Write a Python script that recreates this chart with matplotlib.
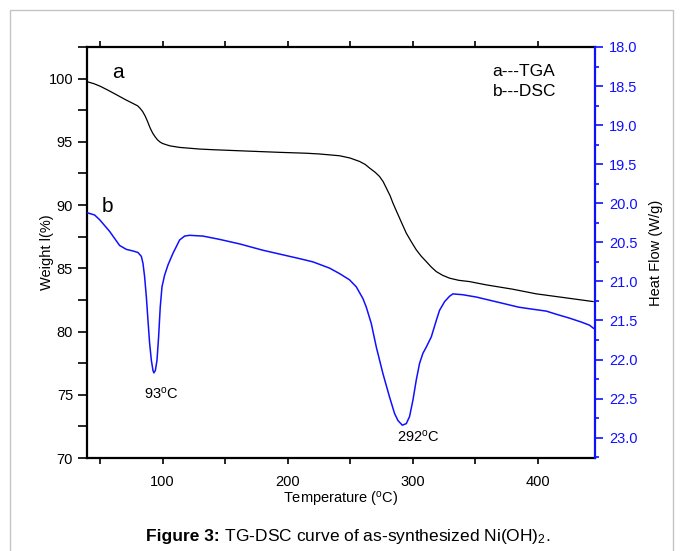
import matplotlib
matplotlib.use("Agg")
import matplotlib.pyplot as plt
from matplotlib.ticker import MultipleLocator, FormatStrFormatter
from matplotlib.patches import Rectangle

plt.rcParams['font.family'] = ['Liberation Sans', 'DejaVu Sans']
plt.rcParams['mathtext.fontset'] = 'custom'
plt.rcParams['mathtext.rm'] = 'Liberation Sans'
plt.rcParams['mathtext.it'] = 'Liberation Sans:italic'
plt.rcParams['mathtext.bf'] = 'Liberation Sans:bold'

# TGA curve: temperature (degC) vs weight (%)
tga_temp = [39.5, 45, 50, 56, 63, 70, 75, 80, 82, 84, 86, 88, 90, 92, 94, 96, 98,
            100, 103, 106, 113.6, 129.6, 140, 160, 193.6, 215, 225.6, 241.6, 250,
            257.6, 262, 265.6, 270, 273.6, 276.5, 279, 282, 284.3, 287, 289.6, 292.3,
            295, 299, 303, 307, 311, 315, 319, 324, 329.6, 337, 345.6, 359, 380, 399,
            420, 444.5]
tga_weight = [99.76, 99.6, 99.4, 99.1, 98.73, 98.35, 98.1, 97.85, 97.65, 97.4, 97.05,
              96.6, 96.1, 95.7, 95.4, 95.15, 94.98, 94.87, 94.77, 94.68, 94.56, 94.43,
              94.38, 94.3, 94.17, 94.1, 94.04, 93.9, 93.72, 93.45, 93.22, 92.93, 92.6,
              92.26, 91.85, 91.35, 90.75, 90.16, 89.55, 88.97, 88.37, 87.78, 87.1,
              86.46, 85.95, 85.53, 85.1, 84.74, 84.45, 84.22, 84.05, 83.95, 83.69,
              83.35, 82.98, 82.7, 82.37]

# DSC curve: temperature (degC) vs heat flow (W/g)
dsc_temp = [39.4, 45.6, 49.6, 57.6, 65.6, 71, 76.2, 80.3, 83, 84.3, 85.6, 87, 88.3,
            89.6, 91, 92.3, 93, 94.2, 95.5, 96.8, 98.1, 99.5, 101.6, 104.3, 108.3,
            113.6, 117.6, 121.6, 132.3, 145, 161.6, 180, 193.6, 210, 220.3, 233.6,
            241.6, 249.6, 255, 260.3, 263, 267, 271, 276.3, 281.6, 285.6, 288.3, 291.8,
            295, 297.6, 300.3, 303, 305.6, 308.3, 311, 315, 319, 321.6, 325.6, 329.6,
            332.3, 340, 351, 372, 385, 393.6, 407, 415, 425.6, 435, 441.6, 444.8]
dsc_heat = [20.12, 20.15, 20.21, 20.36, 20.54, 20.59, 20.61, 20.63, 20.68, 20.77,
            20.94, 21.20, 21.50, 21.79, 22.01, 22.14, 22.17, 22.14, 22.01, 21.71,
            21.33, 21.07, 20.92, 20.79, 20.64, 20.47, 20.42, 20.41, 20.42, 20.46,
            20.52, 20.6, 20.65, 20.71, 20.75, 20.83, 20.90, 20.98, 21.07, 21.22,
            21.33, 21.54, 21.84, 22.18, 22.48, 22.69, 22.78, 22.84, 22.82, 22.73,
            22.52, 22.26, 22.05, 21.92, 21.84, 21.71, 21.50, 21.37, 21.26, 21.19,
            21.16, 21.17, 21.20, 21.28, 21.33, 21.35, 21.38, 21.42, 21.47, 21.52,
            21.56, 21.60]

peak_labels = ["93$^{\\rm o}$C", "292$^{\\rm o}$C"]
peak_label_pos = [(99, 22.43), (304.8, 22.99)]

BLUE = '#1010ff'

fig = plt.figure(figsize=(6.83, 5.51), dpi=100)

# light frame around the figure panel
fig.patches.append(Rectangle((9.5 / 683, -0.05), (673 - 9.5) / 683, 1.05 - 10 / 551,
                             transform=fig.transFigure, fill=False,
                             edgecolor='#c4c4c4', linewidth=1.0))

ax = fig.add_axes([87 / 683, 1 - 458 / 551, (595 - 87) / 683, (458 - 47) / 551])
ax2 = ax.twinx()

ax.plot(tga_temp, tga_weight, color='black', linewidth=0.9)
ax2.plot(dsc_temp, dsc_heat, color=BLUE, linewidth=1.1)

ax.set_xlim(39.5, 446)
ax.set_ylim(70, 102.5)
ax2.set_ylim(23.26, 18.0)

for s in ['left', 'bottom', 'top']:
    ax.spines[s].set_linewidth(1.6)
ax.spines['right'].set_visible(False)
for s in ['left', 'bottom', 'top']:
    ax2.spines[s].set_visible(False)
ax2.spines['right'].set_linewidth(1.6)
ax2.spines['right'].set_color(BLUE)

ax.xaxis.set_major_locator(MultipleLocator(100))
ax.xaxis.set_minor_locator(MultipleLocator(50))
ax.yaxis.set_major_locator(MultipleLocator(5))
ax.yaxis.set_minor_locator(MultipleLocator(2.5))
ax2.yaxis.set_major_locator(MultipleLocator(0.5))
ax2.yaxis.set_minor_locator(MultipleLocator(0.25))
ax2.yaxis.set_major_formatter(FormatStrFormatter('%.1f'))

ax.tick_params(axis='x', which='both', direction='out', length=4, width=1.2,
               top=True, labelsize=10.5, pad=8)
ax.tick_params(axis='y', which='both', direction='out', length=6.5, width=1.2,
               labelsize=10.5, pad=3.5)
ax2.tick_params(axis='y', which='major', direction='out', length=6, width=1.2,
                colors=BLUE, labelsize=10.5, pad=4)
ax2.tick_params(axis='y', which='minor', direction='out', length=3, width=1.2,
                colors=BLUE)

ax.set_xlabel("Temperature ($^{\\rm o}$C)", fontsize=10.5, labelpad=1)
ax.set_ylabel("Weight l(%)", fontsize=10.5, labelpad=-4)
ax2.set_ylabel("Heat Flow (W/g)", fontsize=10.5, labelpad=8, color='black')

ax.text(64, 100.47, "a", fontsize=15, ha='center', va='center')
ax.text(56, 89.87, "b", fontsize=15, ha='center', va='center')
ax.text(364, 100.55, "a---TGA", fontsize=12.5, ha='left', va='center')
ax.text(364, 98.97, "b---DSC", fontsize=12.5, ha='left', va='center')

for lbl, (tx, ty) in zip(peak_labels, peak_label_pos):
    ax2.text(tx, ty, lbl, fontsize=10.5, ha='center', va='center')

# caption: bold lead-in followed by regular text, centred as a whole
cap_y = 1 - 537 / 551
t1 = fig.text(0, cap_y, "Figure 3:", fontsize=12.5, fontweight='bold',
              ha='left', va='center')
t2 = fig.text(0, cap_y, " TG-DSC curve of as-synthesized Ni(OH)$_2$.", fontsize=12.5,
              ha='left', va='center')
renderer = fig.canvas.get_renderer()
w1 = t1.get_window_extent(renderer).width
w2 = t2.get_window_extent(renderer).width
x0 = 348 - (w1 + w2) / 2
t1.set_x(x0 / 683)
t2.set_x((x0 + w1) / 683)

fig.savefig("out.png", dpi=100)
